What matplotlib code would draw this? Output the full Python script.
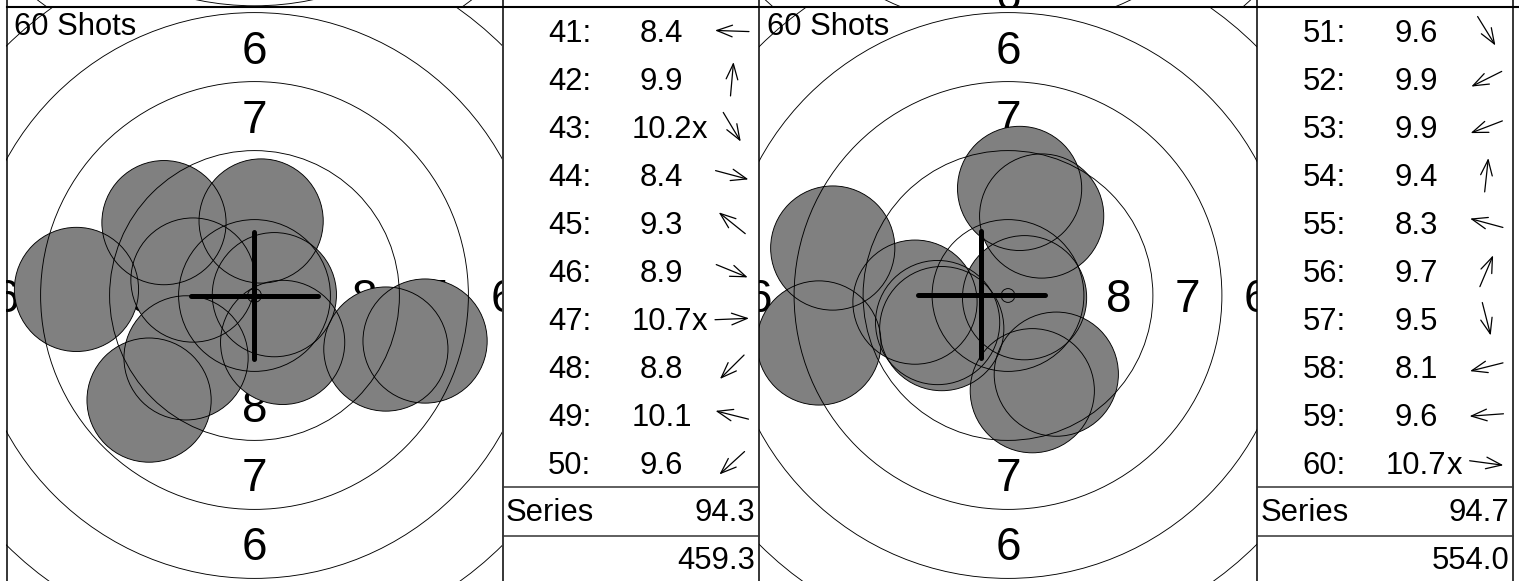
import numpy as np
import matplotlib.pyplot as plt
from matplotlib.patches import Circle

plt.rcParams['font.family'] = ['Liberation Sans', 'DejaVu Sans']

# ---- data (shot positions in mm from target centre, x right / y up) ----
shot_no_a = ['41:', '42:', '43:', '44:', '45:', '46:', '47:', '48:', '49:', '50:']
score_a = ['8.4', '9.9', '10.2', '8.4', '9.3', '8.9', '10.7', '8.8', '10.1', '9.6']
inner_a = [False, False, True, False, False, False, True, False, False, False]
shot_x_a = [-6.45, 0.24, 1.02, 6.18, -3.28, 4.76, 0.72, -3.82, -2.23, -2.48]
shot_y_a = [0.22, 2.70, -1.70, -1.65, 2.64, -1.94, 0.03, -3.79, 0.56, -2.26]
series_a = '94.3'
total_a = '459.3'
mpi_a = (0.0, 0.0)

shot_no_b = ['51:', '52:', '53:', '54:', '55:', '56:', '57:', '58:', '59:', '60:']
score_b = ['9.6', '9.9', '9.9', '9.4', '8.3', '9.7', '9.5', '8.1', '9.6', '10.7']
inner_b = [False, False, False, False, False, False, False, False, False, True]
shot_x_b = [1.75, -2.40, -2.55, 0.42, -6.35, 1.22, 0.88, -6.85, -3.37, 0.60]
shot_y_b = [-2.85, -1.20, -0.98, 3.88, 1.72, 2.88, -3.45, -1.72, -0.24, -0.08]
series_b = '94.7'
total_b = '554.0'
mpi_b = (-0.97, 0.02)

# previous row targets (only a sliver visible at the top)
prev_dy = [-0.16, -0.96]

ring_values = list(range(1, 11))
label_values = list(range(1, 9))
shots_label = '60 Shots'

# ---- geometry ----
W, H = 1519, 581
PX = 27.6          # pixels per mm
PELLET = 2.25
ROW_TOP, ROW_H = 7, 577
TABLE_ROW = 48
targets_x = [(6.5, 502.5), (759, 1257)]
tables_x = [(502.5, 759), (1257, 1513)]
FS = 22.3
FS_RING = 33


def ring_radius(k):
    return 0.25 + (10 - k) * 2.5


def target_axes(fig, x0, x1, top):
    w = x1 - x0
    ax = fig.add_axes([x0 / W, (H - top - ROW_H) / H, w / W, ROW_H / H])
    ax.set_xlim(-w / 2 / PX, w / 2 / PX)
    ax.set_ylim(-ROW_H / 2 / PX, ROW_H / 2 / PX)
    ax.axis('off')
    return ax


def draw_rings(ax, dy=0.0):
    cap = 0.716 * FS_RING * 100 / 72 / PX
    xmax = ax.get_xlim()[1] + 0.5
    ymax = ax.get_ylim()[1] + 0.5
    for k in label_values:
        r = (10 - k) * 2.5 - 1.0
        for px_, py_ in [(0, r + dy), (0, -r + dy), (r, dy), (-r, dy)]:
            if abs(px_) > xmax or abs(py_) > ymax:
                continue
            ax.text(px_, py_ - cap / 2, str(k), fontsize=FS_RING, ha='center',
                    va='baseline', color='black', zorder=1, clip_on=True)
    for k in ring_values:
        ax.add_patch(Circle((0, dy), ring_radius(k), fill=False, edgecolor='black',
                            lw=0.65, zorder=3))


def draw_target(ax, xs, ys, mpi):
    draw_rings(ax)
    for x, y in zip(xs, ys):
        ax.add_patch(Circle((x, y), PELLET, facecolor='#808080', edgecolor='none', zorder=2))
        ax.add_patch(Circle((x, y), PELLET, fill=False, edgecolor='black', lw=0.65, zorder=4))
    mx, my = mpi
    ax.plot([mx - 2.3, mx + 2.3], [my, my], color='black', lw=3.6,
            solid_capstyle='round', zorder=5)
    ax.plot([mx, mx], [my - 2.3, my + 2.3], color='black', lw=3.6,
            solid_capstyle='round', zorder=5)


fig = plt.figure(figsize=(W / 100, H / 100), dpi=100)

panels = [
    (shot_no_a, score_a, inner_a, shot_x_a, shot_y_a, series_a, total_a, mpi_a),
    (shot_no_b, score_b, inner_b, shot_x_b, shot_y_b, series_b, total_b, mpi_b),
]

for i, (tx0, tx1) in enumerate(targets_x):
    pax = target_axes(fig, tx0, tx1, ROW_TOP - ROW_H)
    draw_rings(pax, prev_dy[i])
    ax = target_axes(fig, tx0, tx1, ROW_TOP)
    p = panels[i]
    draw_target(ax, p[3], p[4], p[7])

# overlay in pixel coordinates: frame lines and score tables
ov = fig.add_axes([0, 0, 1, 1], zorder=10)
ov.set_xlim(0, W)
ov.set_ylim(H, 0)
ov.axis('off')
ov.patch.set_alpha(0)

ov.plot([6.5, W], [6.5, 6.5], color='black', lw=1.5)
for x in [6.5, 502.5, 759, 1257, 1513]:
    ov.plot([x, x], [0, H], color='black', lw=1.1)

for i, (tx0, tx1) in enumerate(tables_x):
    nos, scores, inner, xs, ys, series, total, _ = panels[i]
    ov.text(targets_x[i][0] + 8, 35, shots_label, fontsize=FS, ha='left', va='baseline')
    for j in range(len(nos)):
        base = ROW_TOP + 35 + TABLE_ROW * j
        ov.text(tx0 + 67, base, nos[j], fontsize=FS, ha='center', va='baseline')
        t = ov.text(tx0 + 159, base, scores[j], fontsize=FS, ha='center', va='baseline')
        if inner[j]:
            ov.annotate('x', xy=(1, 0), xycoords=t, fontsize=FS, ha='left', va='bottom')
        ang = np.arctan2(ys[j], xs[j])
        cx, cy = tx0 + 229.5, ROW_TOP + 24 + TABLE_ROW * j
        L = 34
        dx, dy = L / 2 * np.cos(ang), -L / 2 * np.sin(ang)
        ov.annotate('', xy=(cx + dx, cy + dy), xytext=(cx - dx, cy - dy),
                    arrowprops=dict(arrowstyle='->,head_length=0.8,head_width=0.3',
                                    lw=0.9, color='black', shrinkA=0, shrinkB=0,
                                    mutation_scale=14))
    y_series = ROW_TOP + TABLE_ROW * 10
    ov.plot([tx0, tx1], [y_series, y_series], color='#333333', lw=1.1)
    ov.plot([tx0, tx1], [y_series + 49, y_series + 49], color='#333333', lw=1.1)
    ov.text(tx0 + 3.5, 521, 'Series', fontsize=FS, ha='left', va='baseline')
    ov.text(tx1 - 3.5, 521, series, fontsize=FS, ha='right', va='baseline')
    ov.text(tx1 - 3.5, 569, total, fontsize=FS, ha='right', va='baseline')

fig.savefig('out.png', dpi=100)
